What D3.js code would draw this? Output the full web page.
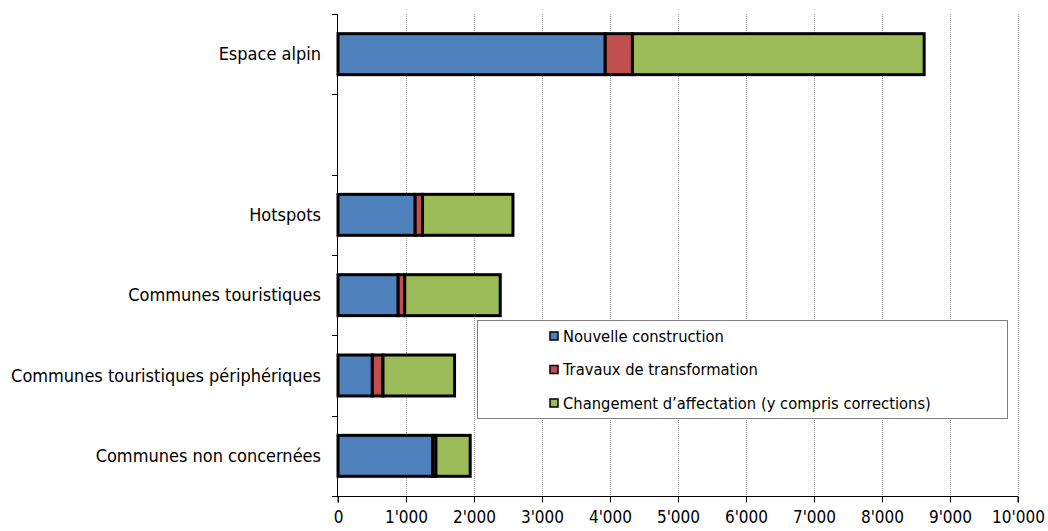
<!DOCTYPE html>
<html>
<head>
<meta charset="utf-8">
<script src="https://cdn.jsdelivr.net/npm/d3@7"></script>
<style>
  html, body { margin: 0; padding: 0; background: #fff; }
  svg text { font-family: "DejaVu Sans Condensed", "DejaVu Sans", sans-serif; font-stretch: condensed; fill: #000; }
</style>
</head>
<body>
<svg id="chart" width="1048" height="531"></svg>
<script>
// Categories from top to bottom (empty slot separates the total from the groups)
const categories = [
  "Espace alpin",
  "",
  "Hotspots",
  "Communes touristiques",
  "Communes touristiques périphériques",
  "Communes non concernées"
];
const seriesNames = [
  "Nouvelle construction",
  "Travaux de transformation",
  "Changement d\u2019affectation (y compris corrections)"
];
const seriesColors = ["#4f81bd", "#c0504d", "#9bbb59"];
const nouvelleConstruction   = [3930, null, 1135, 885, 505, 1390];
const travauxTransformation  = [400,  null, 108,  97,  157, 50];
const changementAffectation  = [4290, null, 1330, 1404, 1052, 504];
const xTicks = [0, 1000, 2000, 3000, 4000, 5000, 6000, 7000, 8000, 9000, 10000];

const svg = d3.select("#chart");
const margin = { left: 338, right: 30, top: 14, bottom: 35 };
const W = 1048, H = 531;

const x = d3.scaleLinear().domain([0, 10000]).range([margin.left, W - margin.right]);
const y = d3.scaleBand().domain(d3.range(categories.length))
  .range([margin.top, H - margin.bottom]).paddingInner(0.49).paddingOuter(0.245);
const yOuter = d3.scaleBand().domain(d3.range(categories.length))
  .range([margin.top, H - margin.bottom]);

// dotted vertical gridlines
svg.append("g").selectAll("line").data(xTicks.slice(1)).join("line")
  .attr("x1", d => Math.round(x(d)) + 0.5).attr("x2", d => Math.round(x(d)) + 0.5)
  .attr("y1", margin.top).attr("y2", H - margin.bottom)
  .attr("stroke", "#9a9a9a").attr("stroke-width", 1).attr("stroke-dasharray", "1,1");

// stacked data
const rows = categories.map((c, i) => ({
  i, vals: [nouvelleConstruction[i], travauxTransformation[i], changementAffectation[i]]
})).filter(r => r.vals[0] != null);

const stack = d3.stack().keys([0, 1, 2]).value((r, k) => r.vals[k]);
const stacked = stack(rows);

const bars = svg.append("g");
stacked.forEach((layer, k) => {
  bars.append("g").selectAll("rect").data(layer).join("rect")
    .attr("x", d => x(d[0]))
    .attr("width", d => x(d[1]) - x(d[0]))
    .attr("y", d => y(d.data.i))
    .attr("height", y.bandwidth())
    .attr("fill", seriesColors[k])
    .attr("stroke", "#000").attr("stroke-width", 3);
});

// x axis
const xAxis = d3.axisBottom(x).tickValues(xTicks).tickSize(6).tickPadding(8)
  .tickFormat(d => d3.format(",")(d).replace(/,/g, "'"));
const gx = svg.append("g").attr("transform", `translate(0,${H - margin.bottom + 0.5})`).call(xAxis);
gx.select(".domain").attr("stroke", "#000").attr("d", `M${x(0)},6V0H${x(10000)}V6`);
gx.selectAll(".tick line").attr("stroke", "#000");
gx.selectAll("text").style("font-size", "17px").attr("fill", "#000");

// y axis: ticks at slot boundaries, labels at slot centers
const yBounds = d3.range(categories.length + 1).map(i => margin.top + i * yOuter.step());
const gy = svg.append("g");
gy.append("line").attr("x1", margin.left - 0.5).attr("x2", margin.left - 0.5)
  .attr("y1", margin.top).attr("y2", H - margin.bottom).attr("stroke", "#000");
gy.selectAll("line.tk").data(yBounds).join("line").attr("class", "tk")
  .attr("x1", margin.left - 6).attr("x2", margin.left)
  .attr("y1", d => Math.round(d) + 0.5).attr("y2", d => Math.round(d) + 0.5)
  .attr("stroke", "#000");
gy.selectAll("text").data(categories).join("text")
  .attr("x", margin.left - 17)
  .attr("y", (d, i) => y(i) + y.bandwidth() / 2)
  .attr("dy", "0.35em").attr("text-anchor", "end")
  .style("font-size", "18px")
  .text(d => d);

// legend
const lg = svg.append("g");
lg.append("rect").attr("x", 477.5).attr("y", 320.5).attr("width", 530).attr("height", 98)
  .attr("fill", "#fff").attr("stroke", "#7f7f7f").attr("stroke-width", 1);
seriesNames.forEach((name, k) => {
  const cy = 336 + k * 33.5;
  lg.append("rect").attr("x", 550).attr("y", cy - 4).attr("width", 8).attr("height", 8)
    .attr("fill", seriesColors[k]).attr("stroke", "#000").attr("stroke-width", 1.5);
  lg.append("text").attr("x", 563).attr("y", cy).attr("dy", "0.35em")
    .style("font-size", "16.4px").text(name);
});
</script>
</body>
</html>
